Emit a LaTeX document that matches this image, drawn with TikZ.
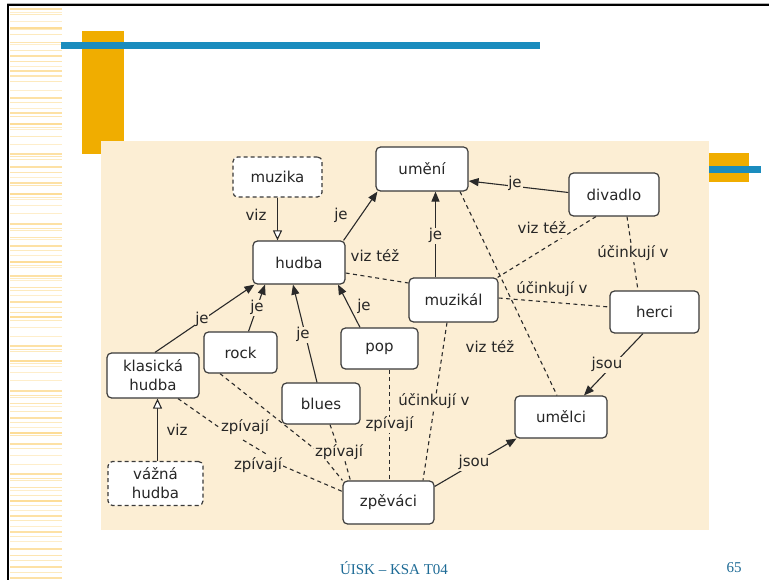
\documentclass[tikz,border=0pt]{standalone}
\usepackage{fontspec}
\setmainfont{DejaVu Sans}
\newfontfamily\footfont{Liberation Serif}
\usetikzlibrary{arrows.meta}

\definecolor{slideorange}{HTML}{F0AD00}
\definecolor{slideblue}{HTML}{1A8CBE}
\definecolor{mapbg}{HTML}{FCEED4}
\definecolor{stripe}{HTML}{FCD47E}
\definecolor{boxline}{HTML}{3A3A3A}
\definecolor{edgecol}{HTML}{2A2A2A}
\definecolor{footblue}{HTML}{1E6B96}

\newcommand\mapfont{\fontsize{15}{19}\selectfont}

\pgfdeclarelayer{deco}
\pgfdeclarelayer{edges}
\pgfsetlayers{deco,edges,main}

\begin{document}
\begin{tikzpicture}[x=1pt,y=-1pt,
  concept/.style={draw=boxline, fill=white, rounded corners=4.5pt, line width=1.2pt,
    inner sep=0pt, align=center, font=\mapfont, text=black!85},
  ghost/.style={concept, dash pattern=on 4pt off 3pt},
  lbl/.style={font=\mapfont, inner sep=0.8pt, fill=mapbg, text=black!85,
    text height=11pt, text depth=3.5pt},
  link/.style={draw=edgecol, line width=1.1pt},
  arr/.style={link, -{Triangle[length=10pt,width=8pt]}},
  seealso/.style={link, -{Triangle[open,length=10pt,width=9pt,fill=white]}},
  assoc/.style={link, dash pattern=on 4pt off 3.5pt},
]
\useasboundingbox (0,0) rectangle (769,580);

% ---------- slide decoration ----------
\begin{pgfonlayer}{deco}
  \fill[white] (0,0) rectangle (769,580);
  % striped margin
  \foreach \yy/\hh/\cc in {8/2/70, 12/1/40, 14/1/50, 21/1/40, 27/2/80, 29/1/50, 34/1/50,
      42/1/60, 44/1/40, 50/1/50, 55/2/70, 61/1/60, 66/1/40, 70/2/70, 75/2/60, 81/1/50,
      90/1/40, 97/2/70, 102/1/50, 108/1/40, 112/2/70, 116/1/60, 123/2/80, 127/1/50,
      129/1/40, 136/1/50, 144/1/40, 153/2/70, 156/1/60, 159/1/50, 166/2/70, 172/1/60,
      177/1/40, 182/2/70, 185/1/60, 193/2/80, 197/1/50, 199/1/40, 205/1/40, 213/1/40,
      223/2/70, 228/1/60, 230/1/50, 237/1/60, 239/1/40, 245/2/70, 250/1/50, 255/1/40,
      261/2/80, 265/1/50, 267/1/40, 275/2/70, 278/1/50, 280/1/40, 287/1/60, 290/1/50,
      295/1/40, 301/2/70, 307/1/50, 312/1/60, 316/2/80, 320/1/50, 327/1/40, 336/1/40,
      345/2/70, 349/1/60, 351/1/50, 360/2/80, 363/1/50, 366/1/40, 372/1/40, 380/1/40,
      390/2/70, 395/1/60, 397/1/50, 403/1/60, 406/1/40, 411/1/50, 417/2/70, 422/1/50,
      427/1/40, 432/2/80, 435/1/60, 443/2/70, 448/1/50, 455/1/40, 464/1/40, 473/2/70,
      478/1/60, 480/1/50, 487/1/60, 490/1/40, 495/1/50, 500/2/80, 505/1/50, 510/1/40,
      515/2/70, 520/1/50, 526/1/40, 531/2/70, 536/1/50, 541/1/40, 548/2/70, 555/1/60,
      560/1/50, 566/2/70, 572/1/50, 577/2/70}
    \fill[stripe!\cc] (10,\yy) rectangle (62,\yy+\hh);
  % frame
  \draw[black!30, line width=0.8pt] (7,3.4) -- (769,3.4);
  \draw[black, line width=2pt] (7.3,5) -- (769,5);
  \draw[black, line width=2pt] (8.3,4) -- (8.3,580);
  % title bars
  \fill[slideorange] (82,31) rectangle (124,154);
  \fill[slideblue] (61,42) rectangle (540,49);
  % concept map panel
  \fill[mapbg] (101,141) rectangle (709,530);
  \fill[slideorange] (709,153) rectangle (749,182);
  \fill[slideblue] (709,166) rectangle (761,173);
\end{pgfonlayer}

% ---------- concepts ----------
\node[ghost, minimum width=89pt, minimum height=40pt] (muzika) at (277.5,177) {muzika};
\node[concept, minimum width=92pt, minimum height=44pt] (umeni) at (422,169) {umění};
\node[concept, minimum width=90pt, minimum height=43pt] (divadlo) at (614,194.5) {divadlo};
\node[concept, minimum width=92pt, minimum height=43pt] (hudba) at (299,262.5) {hudba};
\node[concept, minimum width=89pt, minimum height=44pt] (muzikal) at (453.5,300) {muzikál};
\node[concept, minimum width=89pt, minimum height=42pt] (herci) at (654.5,312) {herci};
\node[concept, minimum width=92pt, minimum height=45pt] (klasicka) at (153,375.5) {klasická\\hudba};
\node[concept, minimum width=73pt, minimum height=41pt] (rock) at (240.5,352.5) {rock};
\node[concept, minimum width=77pt, minimum height=41pt] (pop) at (379.5,348.5) {pop};
\node[concept, minimum width=78pt, minimum height=41pt] (blues) at (321,403.5) {blues};
\node[concept, minimum width=92pt, minimum height=42pt] (umelci) at (561,417) {umělci};
\node[ghost, minimum width=95pt, minimum height=44pt] (vazna) at (155.5,483.5) {vážná\\hudba};
\node[concept, minimum width=91pt, minimum height=43pt] (zpevaci) at (388.5,502.5) {zpěváci};

% ---------- link labels ----------
\node[lbl] (t1) at (256,217) {viz};
\node[lbl] (t2) at (341,216) {je};
\node[lbl] (t3) at (515,184) {je};
\node[lbl] (t4) at (435.5,236) {je};
\node[lbl] (t5) at (375,258) {viz též};
\node[lbl] (t6) at (542,230) {viz též};
\node[lbl] (t7) at (633,254) {účinkují v};
\node[lbl] (t8) at (552,290) {účinkují v};
\node[lbl] (t9) at (490,349) {viz též};
\node[lbl] (t10) at (607,365) {jsou};
\node[lbl] (t11) at (202,320) {je};
\node[lbl] (t12) at (257,308) {je};
\node[lbl] (t13) at (303,335) {je};
\node[lbl] (t14) at (364,307) {je};
\node[lbl] (t15) at (177,432) {viz};
\node[lbl] (z1) at (245,428) {zpívají};
\node[lbl] (z2) at (258,466) {zpívají};
\node[lbl] (z3) at (339,453) {zpívají};
\node[lbl] (z4) at (389.5,425) {zpívají};
\node[lbl] (t20) at (434,402) {účinkují v};
\node[lbl] (t21) at (474,463) {jsou};

% ---------- connectors ----------
\begin{pgfonlayer}{edges}
  % "viz" links
  \draw[seealso] (muzika.south) -- (muzika.south |- hudba.north);
  \coordinate (vz) at ([shift={(2,0)}]vazna.north);
  \draw[seealso] (vz) -- (vz |- klasicka.south);
  % "je" links
  \draw[arr] ([shift={(-2,0)}]hudba.north east) -- ([shift={(2,0)}]umeni.south west);
  \draw[arr] ([shift={(0,-2)}]divadlo.west) -- ([shift={(0,12)}]umeni.east);
  \coordinate (kn) at ([shift={(-18,0)}]muzikal.north);
  \draw[arr] (kn) -- (kn |- umeni.south);
  \draw[arr] ([shift={(2,0)}]klasicka.north) -- ([shift={(2,0)}]hudba.south west);
  \draw[arr] ([shift={(8,0)}]rock.north) -- ([shift={(-34,0)}]hudba.south);
  \draw[arr] ([shift={(-4,0)}]blues.north) -- ([shift={(-6,0)}]hudba.south);
  \draw[arr] ([shift={(-19.5,0)}]pop.north) -- ([shift={(39,0)}]hudba.south);
  % "jsou" links
  \draw[arr] ([shift={(-11.5,0)}]herci.south) -- ([shift={(23,0)}]umelci.north);
  \draw[arr] ([shift={(0,-16)}]zpevaci.east) -- ([shift={(2,0)}]umelci.south west);
  % associations
  \draw[assoc] ([shift={(0,10.5)}]hudba.east) -- ([shift={(0,-17)}]muzikal.west);
  \draw[assoc] ([shift={(38,0)}]umeni.south) -- ([shift={(-4,0)}]umelci.north);
  \draw[assoc] ([shift={(-18,0)}]divadlo.south) -- ([shift={(-1,0)}]muzikal.north east);
  \draw[assoc] ([shift={(13,0)}]divadlo.south) -- ([shift={(-16.5,0)}]herci.north);
  \draw[assoc] ([shift={(0,-2)}]muzikal.east) -- ([shift={(0,-5)}]herci.west);
  \draw[assoc] ([shift={(-6.5,0)}]muzikal.south) -- ([shift={(34.5,0)}]zpevaci.north);
  \coordinate (pp) at ([shift={(10,0)}]pop.south);
  \draw[assoc] (pp) -- (pp |- zpevaci.north);
  % "zpívají" links
  \draw[assoc] ([shift={(25,0)}]klasicka.south) -- (z1.west);
  \draw[assoc] ([shift={(-2,12)}]z1.center) -- ([shift={(10,-11)}]z2.center);
  \draw[assoc] (z2.east) -- ([shift={(0,-11)}]zpevaci.west);
  \draw[assoc] ([shift={(-20.5,0)}]rock.south) -- ([shift={(-23,-3)}]z3.center);
  \draw[assoc] ([shift={(9,0)}]blues.south) -- ([shift={(-2,0)}]z3.north);
  \draw[assoc] ([shift={(-12,0)}]z3.south) -- (zpevaci.north west);
  \draw[assoc] ([shift={(6,0)}]z3.south) -- ([shift={(8,0)}]zpevaci.north west);
\end{pgfonlayer}

% ---------- footer ----------
\node[font=\footfont\fontsize{15}{18}\selectfont, text=footblue, inner sep=0pt] (foot) at (394,568) {ÚISK – KSA T04};
\node[font=\footfont\fontsize{15}{18}\selectfont, text=footblue, inner sep=0pt] (pageno) at (734,568) {65};
\end{tikzpicture}
\end{document}
